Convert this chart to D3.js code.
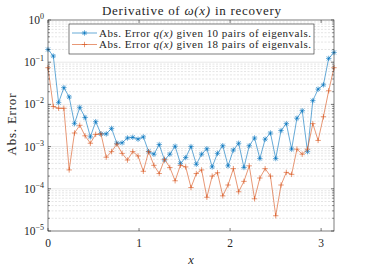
<!DOCTYPE html>
<html>
<head>
<meta charset="utf-8">
<script src="https://cdn.jsdelivr.net/npm/d3@7"></script>
<style>
  body { margin: 0; background: #fff; }
  text { font-family: "Liberation Serif", "DejaVu Serif", serif; fill: #262626; }
</style>
</head>
<body>
<div id="chart"></div>
<script>
// sample points x = 0 .. pi
const xValues = [0, 0.0582, 0.1164, 0.1745, 0.2327, 0.2909, 0.3491, 0.4072, 0.4654, 0.5236,
  0.5818, 0.6400, 0.6981, 0.7563, 0.8145, 0.8727, 0.9308, 0.9890, 1.0472, 1.1054,
  1.1636, 1.2217, 1.2799, 1.3381, 1.3963, 1.4544, 1.5126, 1.5708, 1.6290, 1.6872,
  1.7453, 1.8035, 1.8617, 1.9199, 1.9780, 2.0362, 2.0944, 2.1526, 2.2108, 2.2689,
  2.3271, 2.3853, 2.4435, 2.5016, 2.5598, 2.6180, 2.6762, 2.7344, 2.7925, 2.8507,
  2.9089, 2.9671, 3.0252, 3.0834, 3.1416];

// abs. error with 10 pairs of eigenvalues
const err10 = [2.0e-1, 1.4e-1, 1.1e-2, 2.5e-2, 1.5e-2, 3.5e-3, 8.5e-3, 4.9e-3, 1.7e-3, 3.9e-3,
  2.0e-3, 2.0e-3, 2.7e-3, 1.2e-3, 1.23e-3, 1.6e-3, 1.66e-3, 1.5e-3, 1.7e-3, 7.6e-4,
  6.6e-4, 1.12e-3, 4.8e-4, 6.6e-4, 1.02e-3, 4.0e-4, 5.5e-4, 1.0e-3, 3.8e-4, 6.6e-4,
  8.9e-4, 3.3e-4, 6.9e-4, 1.05e-3, 3.5e-4, 8.3e-4, 1.2e-3, 3.2e-4, 1.05e-3, 1.6e-3,
  5.2e-4, 1.5e-3, 2.1e-3, 5.2e-4, 2.4e-3, 3.5e-3, 8.7e-4, 4.7e-3, 7.1e-3, 7.6e-4,
  1.23e-2, 2.3e-2, 2.9e-2, 1.23e-1, 1.7e-1];

// abs. error with 18 pairs of eigenvalues
const err18 = [7.4e-2, 8.9e-3, 8.1e-3, 8.1e-3, 2.8e-4, 2.1e-3, 3.2e-3, 1.8e-3, 1.2e-3, 1.95e-3,
  2.0e-3, 5.6e-4, 7.6e-4, 1.15e-3, 6.9e-4, 4.8e-4, 7.6e-4, 6.0e-4, 2.6e-4, 7.6e-4,
  3.6e-4, 2.3e-4, 5.0e-4, 3.2e-4, 1.55e-4, 3.6e-4, 3.3e-4, 1.07e-4, 2.3e-4, 2.8e-4,
  6.3e-5, 2.0e-4, 2.4e-4, 6.8e-5, 1.23e-4, 3.0e-4, 8.5e-5, 1.5e-4, 3.5e-4, 5.8e-5,
  1.8e-4, 3.0e-4, 2.0e-4, 2.3e-5, 1.23e-4, 2.45e-4, 2.2e-4, 8.7e-4, 6.6e-4, 8.7e-4,
  3.5e-3, 1.4e-3, 5.1e-3, 2.1e-2, 7.4e-2];

const xTicks = [0, 1, 2, 3];
const yExponents = [0, -1, -2, -3, -4, -5];
const seriesLabels = ["10", "18"];

const W = 369, H = 268;
const margin = { top: 20, right: 35, bottom: 37, left: 48 };
const width = W - margin.left - margin.right;
const height = H - margin.top - margin.bottom;

const svgRoot = d3.select("#chart").append("svg")
    .attr("width", W).attr("height", H);
svgRoot.append("rect").attr("width", W).attr("height", H).attr("fill", "#fff");

const svg = svgRoot.append("g")
    .attr("transform", `translate(${margin.left},${margin.top})`);

const x = d3.scaleLinear().domain([0, Math.PI]).range([0, width]);
const y = d3.scaleLog().domain([1e-5, 1]).range([height, 0]);

// grid lines (y only)
const minorVals = [];
yExponents.slice(1).forEach(e => {
    for (let m = 2; m <= 9; m++) minorVals.push(m * Math.pow(10, e));
});
svg.selectAll(".minor").data(minorVals).enter().append("line")
    .attr("x1", 0).attr("x2", width)
    .attr("y1", d => y(d)).attr("y2", d => y(d))
    .attr("stroke", "#d4d4d4").attr("stroke-width", 0.6)
    .attr("stroke-dasharray", "2,1.5");
svg.selectAll(".major").data(yExponents.slice(1, -1)).enter().append("line")
    .attr("x1", 0).attr("x2", width)
    .attr("y1", d => y(Math.pow(10, d))).attr("y2", d => y(Math.pow(10, d)))
    .attr("stroke", "#dadada").attr("stroke-width", 0.6);

// series
const colors = ["#0072BD", "#D95319"];
const allSeries = [err10, err18];
const line = d3.line().x(d => x(d[0])).y(d => y(d[1]));

function drawMarker(g, cx, cy, type, color) {
    const s = 2.7;
    g.append("path")
        .attr("d", `M${cx - s},${cy}H${cx + s}M${cx},${cy - s}V${cy + s}`)
        .attr("stroke", color).attr("stroke-width", 0.6).attr("fill", "none");
    if (type === "star") {
        const t = s * 0.75;
        g.append("path")
            .attr("d", `M${cx - t},${cy - t}L${cx + t},${cy + t}M${cx - t},${cy + t}L${cx + t},${cy - t}`)
            .attr("stroke", color).attr("stroke-width", 0.6).attr("fill", "none");
    }
}

allSeries.forEach((vals, i) => {
    const pts = xValues.map((xv, k) => [xv, vals[k]]);
    const g = svg.append("g");
    g.append("path").datum(pts)
        .attr("d", line)
        .attr("fill", "none")
        .attr("stroke", colors[i])
        .attr("stroke-width", 0.6);
    pts.forEach(p => drawMarker(g, x(p[0]), y(p[1]), i === 0 ? "star" : "plus", colors[i]));
});

// axes box
const axisColor = "#262626";
svg.append("rect").attr("width", width).attr("height", height)
    .attr("fill", "none").attr("stroke", axisColor).attr("stroke-width", 0.6);

// x ticks bottom/top
xTicks.forEach(t => {
    svg.append("line").attr("x1", x(t)).attr("x2", x(t)).attr("y1", height).attr("y2", height - 3)
        .attr("stroke", axisColor).attr("stroke-width", 0.6);
    svg.append("line").attr("x1", x(t)).attr("x2", x(t)).attr("y1", 0).attr("y2", 3)
        .attr("stroke", axisColor).attr("stroke-width", 0.6);
    svg.append("text").attr("x", x(t)).attr("y", height + 16)
        .attr("text-anchor", "middle").style("font-size", "11.5px").text(t);
});

// y ticks left/right
yExponents.forEach(e => {
    const yy = y(Math.pow(10, e));
    [[0, 3], [width, width - 3]].forEach(([a, b]) => {
        svg.append("line").attr("x1", a).attr("x2", b).attr("y1", yy).attr("y2", yy)
            .attr("stroke", axisColor).attr("stroke-width", 0.6);
    });
    const lab = svg.append("text").attr("x", -4).attr("y", yy + 4)
        .attr("text-anchor", "end").style("font-size", "11.5px");
    lab.append("tspan").text("10");
    lab.append("tspan").attr("dy", -5).style("font-size", "8px").text(e === 0 ? "0" : "\u2212" + (-e));
});
minorVals.forEach(v => {
    [[0, 1.8], [width, width - 1.8]].forEach(([a, b]) => {
        svg.append("line").attr("x1", a).attr("x2", b).attr("y1", y(v)).attr("y2", y(v))
            .attr("stroke", axisColor).attr("stroke-width", 0.5);
    });
});

// axis labels
svg.append("text").attr("x", width / 2).attr("y", height + 33)
    .attr("text-anchor", "middle").style("font-size", "12.5px").style("font-style", "italic").text("x");
svg.append("text").attr("transform", "rotate(-90)")
    .attr("x", -(y(1e-2) + y(1e-3)) / 2 + 1).attr("y", -margin.left + 16)
    .attr("text-anchor", "middle").style("font-size", "13px")
    .attr("textLength", 62).attr("lengthAdjust", "spacing").text("Abs. Error");

// title
const title = svgRoot.append("text").attr("x", 102).attr("y", 15)
    .style("font-size", "13px")
    .attr("textLength", 179).attr("lengthAdjust", "spacing");
title.append("tspan").text("Derivative of ");
title.append("tspan").style("font-style", "italic").text("\u03C9(x)");
title.append("tspan").text(" in recovery");

// legend
const leg = svg.append("g").attr("transform", "translate(21,4)");
leg.append("rect").attr("width", 245).attr("height", 30)
    .attr("fill", "#fff").attr("stroke", axisColor).attr("stroke-width", 0.6);
seriesLabels.forEach((n, i) => {
    const ly = 9 + i * 11.5;
    leg.append("line").attr("x1", 3).attr("x2", 28).attr("y1", ly).attr("y2", ly)
        .attr("stroke", colors[i]).attr("stroke-width", 0.6);
    drawMarker(leg, 15.5, ly, i === 0 ? "star" : "plus", colors[i]);
    const t = leg.append("text").attr("x", 30).attr("y", ly + 3.5).style("font-size", "11px")
        .attr("textLength", 212).attr("lengthAdjust", "spacing");
    t.append("tspan").text("Abs. Error ");
    t.append("tspan").style("font-style", "italic").text("q(x)");
    t.append("tspan").text(` given ${n} pairs of eigenvals.`);
});
</script>
</body>
</html>
